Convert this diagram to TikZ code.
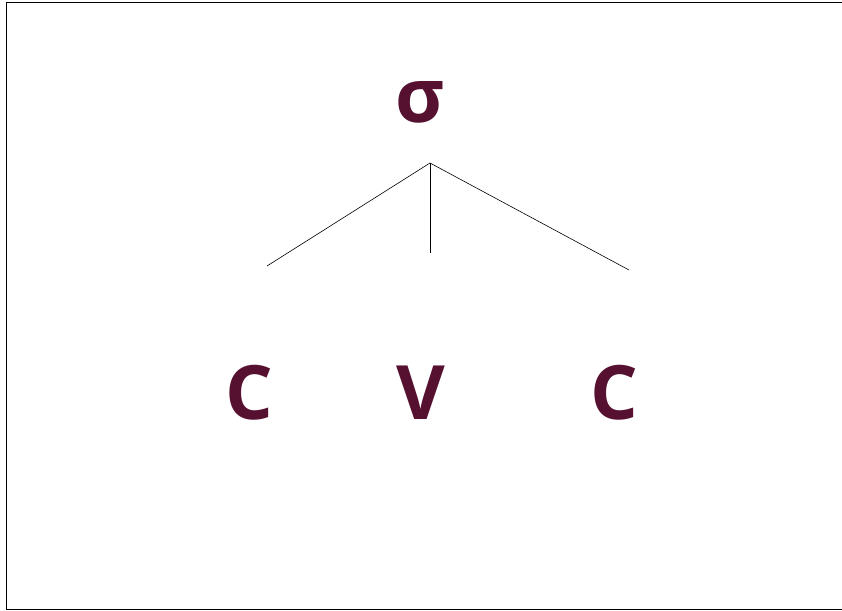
\documentclass[tikz,border=0pt]{standalone}
\usepackage{fontspec}
\setmainfont{Open Sans}
\usepackage{xcolor}
\usetikzlibrary{positioning}
\definecolor{vinho}{RGB}{86,16,48}

\begin{document}
\begin{tikzpicture}[
x=1pt,y=-1pt,
letra/.style={
text=vinho,
font=\fontsize{75}{80}\selectfont\bfseries,
anchor=base,
inner sep=0pt
},
ramo/.style={black,line width=0.6pt}
]

\useasboundingbox (0,0) rectangle (842,610);
\draw[line width=0.8pt] (6,2.5) rectangle (845,609);

\node[letra] (sigma) at (420,122) {σ};

\node[letra] (c1) at (249,419) {C};
\node[letra] (v) at (421,419) {V};
\node[letra] (c2) at (614,419) {C};

\coordinate (topo) at (430,163);
\coordinate (esq) at (267,266);
\coordinate (meio) at (430,253);
\coordinate (dir) at (629,270);

\draw[ramo] (topo)--(esq);
\draw[ramo] (topo)--(meio);
\draw[ramo] (topo)--(dir);

\end{tikzpicture}
\end{document}
